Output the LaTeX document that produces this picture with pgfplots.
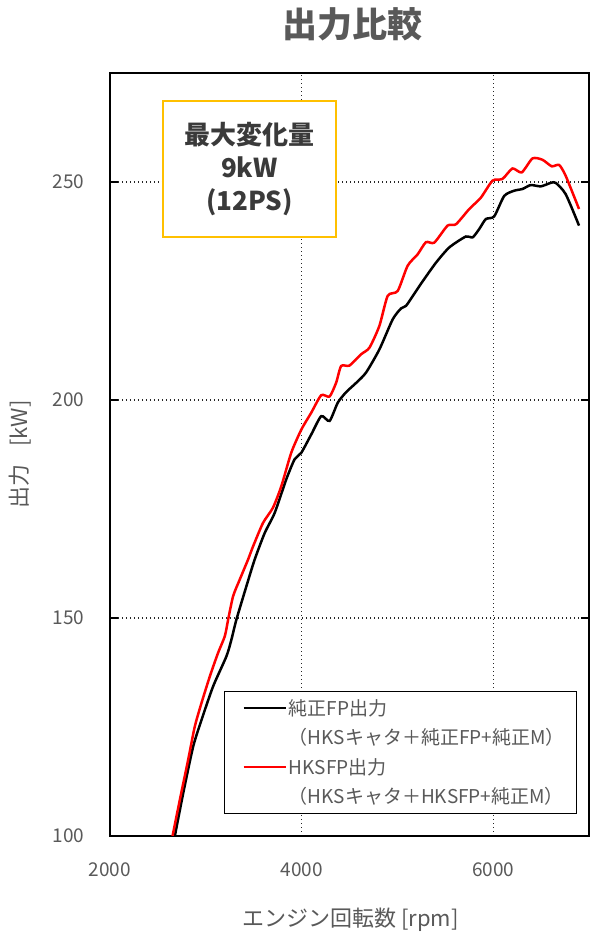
\documentclass[border=0pt]{standalone}
\usepackage{pgfplots}
\pgfplotsset{compat=1.18}
\usepackage{fontspec}
\setmainfont{Noto Sans CJK JP}
\definecolor{tickgray}{HTML}{595959}
\definecolor{boxyellow}{HTML}{FFC000}
\definecolor{txtdark}{HTML}{3A3A3A}
\begin{document}
\begin{tikzpicture}[x=1pt,y=1pt]
\useasboundingbox (0,0) rectangle (600,946);
\node[font=\fontsize{35}{37}\selectfont\bfseries, text=tickgray] at (352,922) {出力比較};
\begin{axis}[
  scale only axis,
  width=479pt, height=763pt,
  at={(110pt,110pt)}, anchor=south west,
  xmin=2000, xmax=7000, ymin=100, ymax=275,
  xtick={2000,4000,6000}, ytick={100,150,200,250},
  major tick length=8pt,
  tick align=inside,
  xtick style={draw=none},
  ytick style={line width=1.2pt, black},
  /pgf/number format/assume math mode=true,
  /pgf/number format/set thousands separator={},
  ticklabel style={font=\fontsize{19}{21}\selectfont, text=tickgray},
  xticklabel style={yshift=-23pt},
  yticklabel style={xshift=-22pt},
  axis line style={line width=1.6pt, black},
  grid=major,
  major grid style={line width=1.2pt, black!85, dash pattern=on 1.2pt off 2.8pt},
  every axis x label/.style={at={(axis description cs:0.502,-0.110)}, anchor=center},
  every axis y label/.style={at={(axis description cs:-0.1875,0.5)}, anchor=center, rotate=90},
  xlabel={エンジン回転数 [rpm]},
  ylabel={出力\hspace{0.8em}[kW]},
  label style={font=\fontsize{22}{24}\selectfont, text=tickgray},
  clip=true,
  legend cell align=left,
  legend style={at={(0.975,0.029)}, anchor=south east, draw=black, line width=0.8pt,
    font=\fontsize{19}{21}\selectfont, text=tickgray,
    inner xsep=10pt, inner ysep=6pt, row sep=8pt,
    /tikz/every even column/.append style={column sep=6pt}},
  legend image code/.code={\draw[#1, line width=2.5pt] (9pt,0pt) -- (51pt,0pt);},
]
\addplot[black, line width=2.5pt, smooth, tension=0.4] coordinates {
(2677,100) (2764,109.8) (2868,120.5) (2955,126.6) (3076,134.3) (3215,141.2)
(3267,145) (3319,149.6) (3424,157.3) (3510,163.4) (3615,169.5) (3719,174.1)
(3840,181.8) (3927,186.4) (3997,187.9) (4101,192.1) (4205,196.3) (4292,195.2)
(4378,199.4) (4465,201.8) (4573,204) (4673,206.3) (4812,211.6) (4951,218.5)
(5038,221) (5090,221.6) (5180,224.5) (5263,227.2) (5403,231.5) (5542,235)
(5715,237.5) (5785,237.3) (5854,239.2) (5923,241.5) (6010,242.1) (6115,246.8)
(6219,248) (6306,248.4) (6392,249.3) (6497,249) (6601,249.8) (6653,249.8)
(6757,247.2) (6896,240)
};
\addlegendentry{純正FP出力}
\addlegendimage{empty legend}
\addlegendentry{（HKSキャタ＋純正FP+純正M）}
\addplot[red, line width=2.5pt, smooth, tension=0.4] coordinates {
(2653,100) (2729,108.3) (2816,117.5) (2885,125.1) (2955,130.5) (3042,136.6)
(3128,142) (3198,145.8) (3233,149.6) (3285,155) (3354,158.8) (3441,163.4)
(3493,166.4) (3597,171.8) (3701,175.3) (3788,180.2) (3892,187.9) (3997,193.2)
(4101,197.1) (4205,201.1) (4292,200.8) (4361,204) (4413,207.8) (4500,207.9)
(4622,210.5) (4708,212) (4812,217) (4899,223.9) (5003,225) (5107,230.8)
(5211,233.4) (5298,236.2) (5385,236.1) (5524,240) (5611,240.3) (5750,243.8)
(5871,246.4) (5993,250.3) (6097,250.7) (6201,253.1) (6298,252.2) (6410,255.4)
(6514,255.1) (6611,253.6) (6688,253.9) (6757,251.4) (6896,243.8)
};
\addlegendentry{HKSFP出力}
\addlegendimage{empty legend}
\addlegendentry{（HKSキャタ＋HKSFP+純正M）}
\node[draw=boxyellow, line width=2pt, fill=white, minimum width=173pt, minimum height=136pt,
  align=center, font=\fontsize{26}{33}\selectfont\bfseries, text=txtdark]
  at (axis description cs:0.291,0.874) {最大変化量\\9kW\\(12PS)};
\end{axis}
\end{tikzpicture}
\end{document}
